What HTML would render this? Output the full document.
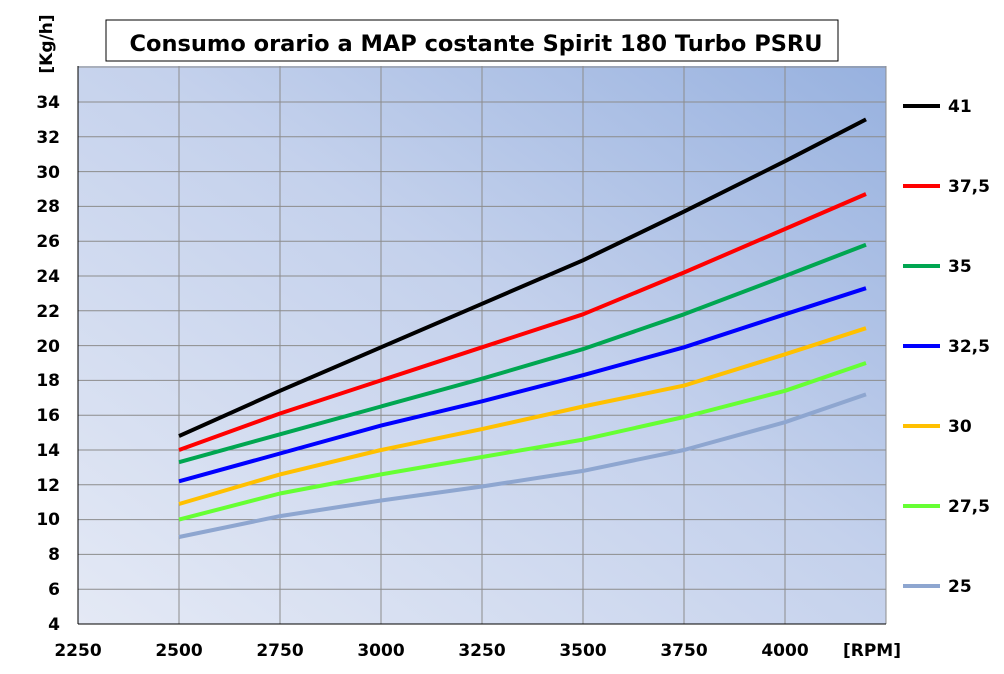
<!DOCTYPE html>
<html><head><meta charset="utf-8"><style>body{margin:0;background:#fff}svg{display:block}text{font-family:"DejaVu Sans",Verdana,sans-serif;font-weight:bold}</style></head>
<body>
<svg width="1004" height="674" viewBox="0 0 1004 674" xmlns="http://www.w3.org/2000/svg">
<defs><linearGradient id="bg" x1="0" y1="1" x2="1" y2="0"><stop offset="0" stop-color="#e4e9f5"/><stop offset="0.55" stop-color="#c4d1ec"/><stop offset="1" stop-color="#97b1df"/></linearGradient></defs>
<rect x="78" y="66" width="808" height="558" fill="url(#bg)"/>
<g stroke="#8c8c8c" stroke-width="1">
<line x1="179" y1="66" x2="179" y2="624"/><line x1="280" y1="66" x2="280" y2="624"/><line x1="381" y1="66" x2="381" y2="624"/><line x1="482" y1="66" x2="482" y2="624"/><line x1="583" y1="66" x2="583" y2="624"/><line x1="684" y1="66" x2="684" y2="624"/><line x1="785" y1="66" x2="785" y2="624"/><line x1="886" y1="66" x2="886" y2="624"/>
<line x1="78" y1="589.2" x2="886" y2="589.2"/><line x1="78" y1="554.4" x2="886" y2="554.4"/><line x1="78" y1="519.6" x2="886" y2="519.6"/><line x1="78" y1="484.8" x2="886" y2="484.8"/><line x1="78" y1="450" x2="886" y2="450"/><line x1="78" y1="415.2" x2="886" y2="415.2"/><line x1="78" y1="380.4" x2="886" y2="380.4"/><line x1="78" y1="345.6" x2="886" y2="345.6"/><line x1="78" y1="310.8" x2="886" y2="310.8"/><line x1="78" y1="276" x2="886" y2="276"/><line x1="78" y1="241.2" x2="886" y2="241.2"/><line x1="78" y1="206.4" x2="886" y2="206.4"/><line x1="78" y1="171.6" x2="886" y2="171.6"/><line x1="78" y1="136.8" x2="886" y2="136.8"/><line x1="78" y1="102" x2="886" y2="102"/><line x1="78" y1="67" x2="886" y2="67"/>
</g>
<line x1="78" y1="66" x2="78" y2="624" stroke="#000"/><line x1="78" y1="624" x2="886" y2="624" stroke="#000"/>
<g fill="none" stroke-width="4" stroke-linejoin="round" stroke-linecap="butt">
<polyline stroke="#000" points="179,436.1 280,390.8 381,347.3 482,303.8 583,260.3 684,211.6 785,161.2 866,119.4"/>
<polyline stroke="#ff0000" points="179,450 280,413.5 381,380.4 482,347.3 583,314.3 684,272.5 785,229 866,194"/>
<polyline stroke="#00a651" points="179,462.2 280,434.3 381,406.5 482,378.7 583,349.1 684,314.3 785,276 866,244.7"/>
<polyline stroke="#0000ff" points="179,481.3 280,453.5 381,425.6 482,401.3 583,375.2 684,347.3 785,314.3 866,288.2"/>
<polyline stroke="#ffc000" points="179,504 280,474.4 381,450 482,429.1 583,406.5 684,385.6 785,354.3 866,328.2"/>
<polyline stroke="#66ff33" points="179,519.6 280,493.5 381,474.4 482,457 583,439.6 684,417 785,390.8 866,363"/>
<polyline stroke="#8ea6d0" points="179,537 280,516.1 381,500.5 482,486.5 583,470.9 684,450 785,422.2 866,394.4"/>
</g>
<g font-size="17" text-anchor="end" fill="#000">
<text x="60" y="630">4</text><text x="60" y="595">6</text><text x="60" y="560">8</text><text x="60" y="525">10</text><text x="60" y="491">12</text><text x="60" y="456">14</text><text x="60" y="421">16</text><text x="60" y="386">18</text><text x="60" y="352">20</text><text x="60" y="317">22</text><text x="60" y="282">24</text><text x="60" y="247">26</text><text x="60" y="212">28</text><text x="60" y="178">30</text><text x="60" y="143">32</text><text x="60" y="108">34</text>
</g>
<g font-size="17" text-anchor="middle">
<text x="78" y="656">2250</text><text x="179" y="656">2500</text><text x="280" y="656">2750</text><text x="381" y="656">3000</text><text x="482" y="656">3250</text><text x="583" y="656">3500</text><text x="684" y="656">3750</text><text x="785" y="656">4000</text><text x="872" y="656">[RPM]</text>
</g>
<text x="0" y="0" font-size="17" text-anchor="middle" transform="translate(52,44) rotate(-90)">[Kg/h]</text>
<rect x="106" y="20" width="732" height="41" fill="#fff" stroke="#000"/>
<text x="476" y="51" font-size="22.5" text-anchor="middle">Consumo orario a MAP costante Spirit 180 Turbo PSRU</text>
<g stroke-width="4">
<line x1="903" y1="106" x2="940" y2="106" stroke="#000"/><line x1="903" y1="186" x2="940" y2="186" stroke="#ff0000"/><line x1="903" y1="266" x2="940" y2="266" stroke="#00a651"/><line x1="903" y1="346" x2="940" y2="346" stroke="#0000ff"/><line x1="903" y1="426" x2="940" y2="426" stroke="#ffc000"/><line x1="903" y1="506" x2="940" y2="506" stroke="#66ff33"/><line x1="903" y1="586" x2="940" y2="586" stroke="#8ea6d0"/>
</g>
<g font-size="17">
<text x="948" y="112">41</text><text x="948" y="192">37,5</text><text x="948" y="272">35</text><text x="948" y="352">32,5</text><text x="948" y="432">30</text><text x="948" y="512">27,5</text><text x="948" y="592">25</text>
</g>
</svg>
</body></html>
